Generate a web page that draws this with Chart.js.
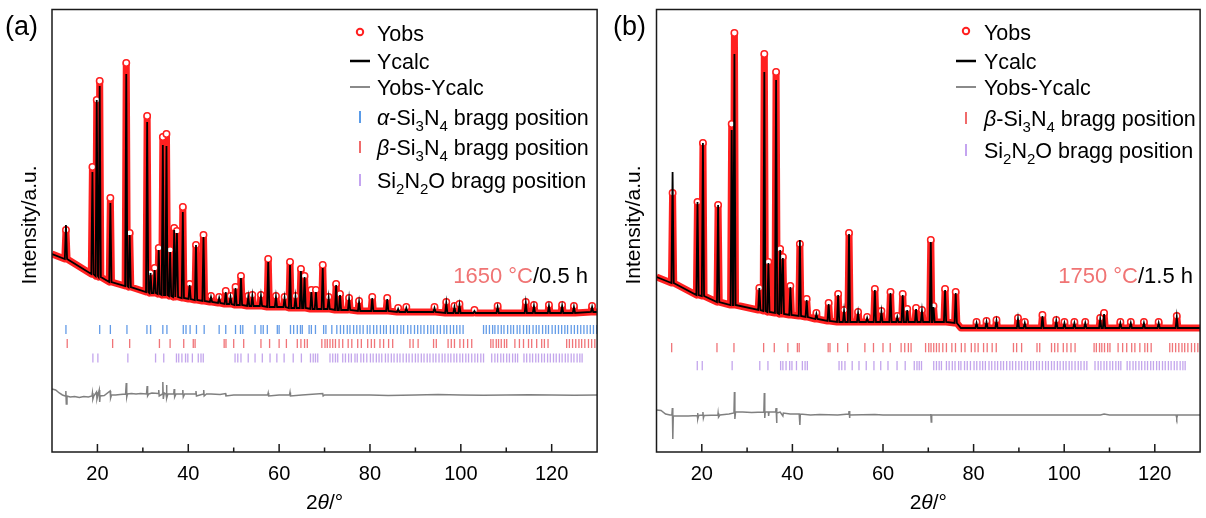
<!DOCTYPE html>
<html>
<head>
<meta charset="utf-8">
<script src="https://cdn.jsdelivr.net/npm/chart.js@4.4.0/dist/chart.umd.min.js"></script>
<style>
  body { margin: 0; background: #fff; }
  #wrap { display: flex; width: 1206px; height: 518px; }
  .panel { width: 603px; height: 518px; }
</style>
</head>
<body>
<div id="wrap">
  <div class="panel"><canvas id="chartA" width="603" height="518"></canvas></div>
  <div class="panel"><canvas id="chartB" width="603" height="518"></canvas></div>
</div>
<script>
// 2θ axis
const xMin = 10, xMax = 130;
const xTicks = [20, 40, 60, 80, 100, 120];
const xMinor = [30, 50, 70, 90, 110];

// (a) 1650 °C / 0.5 h : peak position, Ycalc top, Yobs top, local background
const peakPosA = [13.07, 18.9, 19.85, 20.5, 22.85, 26.35, 27.1, 30.95, 31.7, 32.6,
  33.5, 34.4, 35.2, 36.0, 36.9, 37.5, 38.8, 40.3, 41.7, 43.35,
  45.0, 46.8, 48.25, 49.3, 50.4, 51.6, 53.2, 54.1, 56.0, 57.6,
  59.3, 61.2, 62.4, 63.6, 64.8, 65.6, 67.1, 68.1, 69.6, 70.9,
  72.55, 73.4, 75.4, 77.6, 80.5, 83.8, 86.2, 88.0, 94.2, 96.8,
  98.6, 99.7, 103.0, 108.1, 114.3, 116.1, 119.4, 122.3, 124.9, 128.9];
const peakCalcA = [227, 280, 352, 366, 249, 378, 217, 330, 179, 182,
  202, 307, 306, 200, 222, 219, 240, 167, 207, 215,
  155, 154, 160, 155, 164, 174, 155, 156, 156, 190,
  155, 154, 187, 155, 181, 175, 160, 160, 184, 154,
  167, 157, 153, 150, 154, 153, 143, 144, 144, 149,
  145, 147, 141, 145, 149, 146, 146, 146, 145, 145];
const peakObsA = [222, 285, 352, 371, 254, 389, 219, 336, 179, 184,
  204, 315, 318, 202, 224, 221, 245, 168, 207, 217,
  156, 155, 161, 156, 165, 176, 156, 157, 157, 193,
  156, 155, 190, 156, 183, 176, 162, 162, 187, 155,
  168, 158, 154, 151, 155, 154, 144, 145, 145, 150,
  146, 148, 142, 146, 150, 147, 147, 147, 146, 146];
const peakBaseA = [193, 178, 176, 175, 170, 166, 165, 160, 159, 159,
  158, 157, 157, 156, 155, 155, 154, 153, 152, 151,
  150, 149, 148, 148, 147, 147, 146, 146, 146, 145,
  145, 145, 144, 144, 144, 144, 143, 143, 143, 143,
  142, 142, 142, 141, 141, 141, 140, 140, 140, 139,
  139, 139, 139, 139, 139, 139, 139, 139, 139, 140];
const bgXA = [10, 130];
const bgYA = [198, 140];
const diffXA = [10, 10.8, 11.6, 12.3, 12.9, 13.05, 13.15, 13.3, 14, 15,
  16, 17, 18, 18.8, 18.9, 19.0, 19.2, 19.8, 19.9, 20.4,
  20.5, 20.6, 21.5, 22.8, 22.9, 23.1, 24, 25, 26.2, 26.35,
  26.45, 26.6, 27.5, 28.5, 29.5, 30.8, 30.95, 31.05, 31.3, 32,
  33.4, 33.5, 33.6, 34.3, 34.4, 34.5, 34.7, 35.1, 35.2, 35.3,
  35.5, 36.8, 36.9, 37.0, 37.3, 38.7, 38.8, 38.9, 39.2, 41.6,
  41.7, 41.8, 43.3, 43.4, 43.5, 44, 45, 47, 48.2, 48.3,
  50, 55, 57.5, 57.6, 57.7, 60, 62.3, 62.4, 62.5, 65,
  69.6, 69.7, 70, 80, 84, 90, 95, 100, 105, 110,
  115, 120, 125, 130];
const diffYA = [63, 62, 59, 57, 56, 61, 48, 56, 55, 55.5,
  54.5, 55.5, 55, 56, 59, 53, 56, 60, 53, 62,
  50, 56, 56.5, 61, 54, 57, 57, 57.5, 58, 69,
  55, 58, 58.5, 58, 58.5, 58, 66, 56, 58, 59,
  58.5, 62, 56, 58, 70, 53, 59, 58, 67, 54,
  58, 58, 63, 55, 58, 58, 62, 55, 58, 58,
  61, 56, 58, 62, 56, 58, 58, 57.5, 58.5, 56,
  57, 57, 57, 59, 56, 57, 57, 59.5, 56, 57,
  58.5, 56, 57, 57, 56.5, 57, 57.5, 57, 56.8, 57,
  57.3, 57, 56.8, 57];

// (b) 1750 °C / 1.5 h
const peakPosB = [13.55, 19.05, 20.25, 23.6, 26.6, 27.2, 32.7, 33.8, 34.7, 36.4,
  37.3, 37.9, 39.55, 41.65, 43.15, 45.3, 48.0, 50.1, 51.4, 52.5,
  54.5, 56.5, 58.2, 59.65, 61.65, 63.15, 64.35, 65.35, 67.3, 68.6,
  70.55, 71.15, 73.7, 76.05, 80.65, 82.85, 85.05, 89.8, 91.3, 95.2,
  98.25, 100.05, 102.25, 104.65, 107.95, 108.8, 112.4, 114.7, 117.6, 120.85, 124.85];
const peakCalcB = [280, 250, 309, 247, 322, 398, 164, 380, 189, 372,
  202, 194, 165, 212, 152, 138, 148, 157, 141, 218,
  139, 134, 162, 140, 159, 135, 157, 142, 143, 141,
  210, 145, 162, 159, 129, 130, 131, 133, 129, 136,
  131, 129, 129, 129, 133, 138, 129, 129, 129, 129, 135];
const peakObsB = [259, 250, 309, 247, 328, 419, 164, 398, 190, 380,
  203, 195, 166, 208, 153, 139, 149, 158, 142, 219,
  140, 135, 163, 141, 160, 136, 158, 143, 144, 142,
  212, 146, 163, 160, 130, 131, 132, 134, 130, 137,
  132, 130, 130, 130, 134, 139, 130, 130, 130, 130, 136];
const peakBaseB = [169, 157, 156, 150, 147, 147, 142, 141, 140, 139,
  138, 138, 137, 136, 135, 133, 131, 130, 130, 130,
  130, 130, 130, 130, 130, 130, 130, 130, 130, 130,
  130, 130, 130, 129, 124, 124, 124, 124, 124, 124,
  124, 124, 124, 124, 124, 124, 124, 124, 124, 124, 124];
const bgXB = [10, 77.2, 130];
const bgYB = [175, 124, 124];
const diffXB = [10, 11, 12, 13, 13.4, 13.5, 13.6, 13.7, 15, 17,
  19, 19.05, 19.15, 19.3, 20.2, 20.25, 20.35, 20.5, 23.55, 23.6,
  23.7, 24, 26, 27.1, 27.2, 27.3, 27.45, 29, 31, 33.7,
  33.8, 33.9, 34.0, 34.7, 34.75, 34.85, 36.3, 36.4, 36.5, 36.6,
  37.3, 37.9, 38.0, 39.5, 41.5, 41.65, 41.75, 44, 46, 50,
  52.45, 52.5, 52.6, 52.7, 58.2, 60, 65, 70.45, 70.55, 70.65,
  70.75, 75, 80, 90, 100, 108, 108.8, 110, 120, 124.7,
  124.85, 125, 130];
const diffYB = [42, 41.5, 38, 37, 37, 44, 13, 36, 36, 36,
  36.5, 39, 33, 36.5, 37, 40, 34, 36.5, 37, 39,
  35, 37, 38, 39, 60, 33, 40, 40, 39.5, 40,
  59, 34, 40, 40, 36, 40, 40, 44, 29, 39,
  40, 36, 39, 38, 38, 27, 38, 37, 37.5, 37,
  38, 41, 34, 37, 37.5, 37, 37, 37, 38, 30,
  37, 37, 37, 37, 37, 37, 38, 37, 37, 37,
  34, 37, 37];

// bragg positions (2θ)
const alphaTicks = [13.07, 20.5, 22.85, 26.5, 30.9, 31.7, 34.4, 35.3, 38.9, 39.5,
  40.4, 41.8, 43.5, 46.8, 48.25, 50.4, 51.5, 52.0, 54.7, 56.0, 56.5, 57.4, 59.6, 60.0,
  62.5, 63.2, 64.0, 64.7, 65.1, 66.6, 67.1, 68.0, 69.8, 70.3, 71.6, 72.7, 73.5, 74.2,
  75.0, 75.6, 76.4, 77.1, 77.8, 78.5, 79.4, 80.0, 80.8, 81.5, 82.3, 83.0, 83.6, 84.5,
  85.2, 86.0, 86.8, 87.4, 88.3, 89.0, 89.8, 90.5, 91.2, 91.9, 92.7, 93.4, 94.0, 94.8,
  95.5, 96.3, 96.9, 97.7, 98.4, 99.1, 99.8, 100.5, 105.0, 105.6, 106.3, 107.0, 107.5,
  108.2, 108.9, 109.5, 110.3, 111.0, 111.6, 112.4, 113.0, 113.8, 114.5, 115.1, 115.9,
  116.6, 117.2, 118.0, 118.7, 119.3, 120.1, 120.8, 121.5, 122.2, 122.9, 123.5, 124.3,
  125.0, 125.7, 126.4, 127.1, 127.8, 128.5, 129.2, 129.9];
const betaTicks = [13.35, 23.35, 27.1, 33.65, 36.0, 39.0, 41.1, 41.5, 47.9, 48.3,
  50.0, 52.2, 56.0, 57.9, 60.0, 61.6, 64.0, 64.8, 65.6, 66.2, 69.4, 70.1, 70.6, 71.2,
  71.8, 72.4, 73.2, 74.0, 75.2, 76.0, 77.3, 78.1, 79.5, 80.3, 81.0, 82.2, 83.0, 84.1,
  85.0, 88.8, 89.5, 90.6, 94.0, 94.6, 97.2, 97.9, 98.6, 99.8, 100.6, 101.5, 102.4,
  106.6, 107.1, 107.8, 108.3, 108.9, 109.6, 110.1, 111.9, 112.9, 113.8, 114.9, 115.6,
  116.7, 117.8, 118.4, 119.2, 123.3, 123.9, 124.6, 125.3, 126.0, 126.6, 127.3, 128.1,
  128.8, 129.5];
const si2n2oTicks = [19.0, 20.1, 26.7, 32.8, 34.6, 37.4, 37.9, 38.6, 39.4, 39.9, 40.9,
  42.2, 42.8, 43.3, 50.3, 50.9, 51.6, 53.2, 54.7, 56.3, 58.0, 59.5, 61.1, 63.1, 64.9,
  66.9, 67.5, 68.0, 68.5, 71.2, 71.8, 72.4, 72.9, 74.0, 74.6, 75.3, 75.9, 76.7, 77.2,
  78.0, 78.6, 79.3, 80.1, 80.7, 81.4, 82.0, 82.6, 83.4, 84.0, 84.7, 85.3, 86.0, 86.6,
  87.3, 88.0, 88.6, 89.3, 90.0, 90.6, 91.3, 91.9, 92.6, 93.2, 93.9, 94.5, 95.2, 95.9,
  96.5, 97.2, 97.8, 98.5, 99.1, 99.8, 100.4, 101.1, 101.7, 102.4, 103.1, 103.7, 104.4,
  105.0, 106.8, 107.5, 108.1, 108.8, 109.4, 110.1, 110.7, 111.4, 112.0, 112.5, 113.9,
  114.5, 115.2, 115.8, 116.5, 117.1, 117.8, 118.4, 119.1, 119.7, 120.4, 121.0, 121.7,
  122.3, 123.0, 123.6, 124.3, 124.9, 125.6, 126.2, 126.7];

const FONT = '"Liberation Sans", Arial, sans-serif';
const HALF_W = 0.25;
const COL = { obs: '#ff2020', calc: '#000000', diff: '#808080',
  alpha: 'rgba(60,130,225,0.8)', beta: 'rgba(235,70,75,0.75)', si2n2o: 'rgba(175,135,230,0.75)' };

function profile(pos, tops, base, bgX, bgY) {
  const pts = bgX.map((x, i) => ({ x: x, y: bgY[i] }));
  pos.forEach((p, i) => {
    pts.push({ x: p - HALF_W, y: base[i] }, { x: p, y: tops[i], top: true }, { x: p + HALF_W, y: base[i] });
  });
  pts.sort((a, b) => a.x - b.x);
  return pts;
}
function pairs(xs, ys) { return xs.map((x, i) => ({ x: x, y: ys[i] })); }
function tickRow(xs, level) { return xs.map(x => ({ x: x, y: level })); }

function tickSet(label, xs, level, color) {
  return { label: label, data: tickRow(xs, level), showLine: false, pointStyle: 'line',
    rotation: 90, pointRadius: 4.6, borderWidth: 1.3, borderColor: color, backgroundColor: color };
}

function drawRich(ctx, x, y, parts, size) {
  parts.forEach(p => {
    let f = size, dy = 0, style = '';
    if (p[1] === 'sub') { f = Math.round(size * 0.68); dy = size * 0.28; }
    if (p[1] === 'i') style = 'italic ';
    ctx.font = style + f + 'px ' + FONT;
    ctx.fillText(p[0], x, y + dy);
    x += ctx.measureText(p[0]).width;
  });
}

const decor = {
  id: 'decor',
  afterDraw(chart, args, o) {
    const { ctx, chartArea: a, scales: { x } } = chart;
    ctx.save();
    ctx.strokeStyle = '#1a1a1a';
    ctx.lineWidth = 1.5;
    ctx.strokeRect(a.left, a.top, a.right - a.left, a.bottom - a.top);
    ctx.beginPath();
    xTicks.forEach(v => { const px = x.getPixelForValue(v); ctx.moveTo(px, a.bottom); ctx.lineTo(px, a.bottom - 8); });
    xMinor.forEach(v => { const px = x.getPixelForValue(v); ctx.moveTo(px, a.bottom); ctx.lineTo(px, a.bottom - 4.5); });
    ctx.stroke();

    ctx.fillStyle = '#000';
    ctx.textBaseline = 'middle';
    // panel label
    ctx.font = '27px ' + FONT;
    ctx.textAlign = 'left';
    ctx.fillText(o.panel, o.panelX, 28);
    // axis titles
    ctx.font = '21px ' + FONT;
    const w2 = ctx.measureText('2').width;
    ctx.font = 'italic 21px ' + FONT;
    const wt = ctx.measureText('θ').width;
    ctx.font = '21px ' + FONT;
    const w3 = ctx.measureText('/°').width;
    const tx = (a.left + a.right) / 2 - (w2 + wt + w3) / 2;
    drawRich(ctx, tx, 503, [['2', ''], ['θ', 'i'], ['/°', '']], 21);
    ctx.save();
    ctx.translate(o.yTitleX, 225);
    ctx.rotate(-Math.PI / 2);
    ctx.textAlign = 'center';
    ctx.font = '21px ' + FONT;
    ctx.fillText('Intensity/a.u.', 0, 0);
    ctx.restore();

    // legend
    ctx.textAlign = 'left';
    ctx.textBaseline = 'alphabetic';
    o.legend.forEach((it, i) => {
      const ry = o.rows[i];
      ctx.save();
      if (it.sym === 'circle') {
        ctx.strokeStyle = COL.obs; ctx.lineWidth = 2;
        ctx.beginPath(); ctx.arc(o.symX, ry - 1, 3.2, 0, Math.PI * 2); ctx.stroke();
      } else if (it.sym === 'line') {
        ctx.strokeStyle = it.color; ctx.lineWidth = it.w;
        ctx.beginPath(); ctx.moveTo(o.symX - 10, ry); ctx.lineTo(o.symX + 10, ry); ctx.stroke();
      } else {
        ctx.strokeStyle = it.color; ctx.lineWidth = 2;
        ctx.beginPath(); ctx.moveTo(o.symX, ry - 6); ctx.lineTo(o.symX, ry + 6); ctx.stroke();
      }
      ctx.restore();
      ctx.fillStyle = '#000';
      drawRich(ctx, o.textX, ry + 7.5, it.text, 21.5);
    });

    // condition note
    ctx.font = '22px ' + FONT;
    ctx.textAlign = 'right';
    ctx.textBaseline = 'middle';
    ctx.fillStyle = '#000';
    ctx.fillText(o.note[1], o.noteX, 277);
    const wn = ctx.measureText(o.note[1]).width;
    ctx.fillStyle = '#f07474';
    ctx.fillText(o.note[0], o.noteX - wn, 277);
    ctx.restore();
  }
};

const legObs = { sym: 'circle', text: [['Yobs', '']] };
const legCalc = { sym: 'line', color: '#000', w: 2.5, text: [['Ycalc', '']] };
const legDiff = { sym: 'line', color: '#8a8a8a', w: 2, text: [['Yobs-Ycalc', '']] };
const legAlpha = { sym: 'tick', color: '#5a9be8', text: [['α', 'i'], ['-Si', ''], ['3', 'sub'], ['N', ''], ['4', 'sub'], [' bragg position', '']] };
const legBeta = { sym: 'tick', color: '#f06a6a', text: [['β', 'i'], ['-Si', ''], ['3', 'sub'], ['N', ''], ['4', 'sub'], [' bragg position', '']] };
const legSi = { sym: 'tick', color: '#c4a4f0', text: [['Si', ''], ['2', 'sub'], ['N', ''], ['2', 'sub'], ['O bragg position', '']] };

function makeChart(id, datasets, padLeft, padRight, deco) {
  return new Chart(document.getElementById(id).getContext('2d'), {
    type: 'scatter',
    data: { datasets: datasets },
    options: {
      responsive: false,
      animation: false,
      layout: { padding: { left: padLeft, right: padRight, top: 9.5, bottom: 0 } },
      elements: { line: { tension: 0 } },
      scales: {
        x: {
          type: 'linear', min: xMin, max: xMax,
          grid: { display: false, drawTicks: false },
          border: { display: false },
          afterBuildTicks: s => { s.ticks = xTicks.map(v => ({ value: v })); },
          afterFit: s => { s.height = 66; },
          ticks: { padding: 10, color: '#000', font: { family: FONT, size: 20 }, autoSkip: false, maxRotation: 0 }
        },
        y: { display: false, min: 0, max: 442.5 }
      },
      plugins: { legend: { display: false }, tooltip: { enabled: false }, decor: deco }
    },
    plugins: [decor]
  });
}

function lineSets(pos, calc, obs, base, bgX, bgY, dX, dY) {
  return [
    { label: 'Ycalc', data: profile(pos, calc, base, bgX, bgY), showLine: true, borderColor: COL.calc,
      borderWidth: 1.8, pointRadius: 0 },
    { label: 'Yobs', data: profile(pos, obs, base, bgX, bgY), showLine: true, borderColor: COL.obs,
      borderWidth: 7, borderJoinStyle: 'round', pointBackgroundColor: '#fff', pointBorderColor: COL.obs,
      pointBorderWidth: 1.5, pointRadius: c => (c.raw && c.raw.top ? 3.2 : 0) },
    { label: 'Yobs-Ycalc', data: pairs(dX, dY), showLine: true, borderColor: COL.diff, borderWidth: 1.5, pointRadius: 0 }
  ];
}

makeChart('chartA',
  lineSets(peakPosA, peakCalcA, peakObsA, peakBaseA, bgXA, bgYA, diffXA, diffYA).concat([
    tickSet('α-Si3N4', alphaTicks, 122.5, COL.alpha),
    tickSet('β-Si3N4', betaTicks, 108.5, COL.beta),
    tickSet('Si2N2O', si2n2oTicks, 94, COL.si2n2o)
  ]), 52, 2.3,
  { panel: '(a)', panelX: 5, yTitleX: 30, symX: 360, textX: 377, rows: [33, 61, 87, 117, 147, 180],
    legend: [legObs, legCalc, legDiff, legAlpha, legBeta, legSi], note: ['1650 °C', '/0.5 h'], noteX: 588 });

makeChart('chartB',
  lineSets(peakPosB, peakCalcB, peakObsB, peakBaseB, bgXB, bgYB, diffXB, diffYB).concat([
    tickSet('β-Si3N4', betaTicks, 104.3, COL.beta),
    tickSet('Si2N2O', si2n2oTicks, 86.3, COL.si2n2o)
  ]), 53.5, 3,
  { panel: '(b)', panelX: 10, yTitleX: 31.5, symX: 363, textX: 381, rows: [32, 61, 87, 118, 150],
    legend: [legObs, legCalc, legDiff, legBeta, legSi], note: ['1750 °C', '/1.5 h'], noteX: 590 });
</script>
</body>
</html>
